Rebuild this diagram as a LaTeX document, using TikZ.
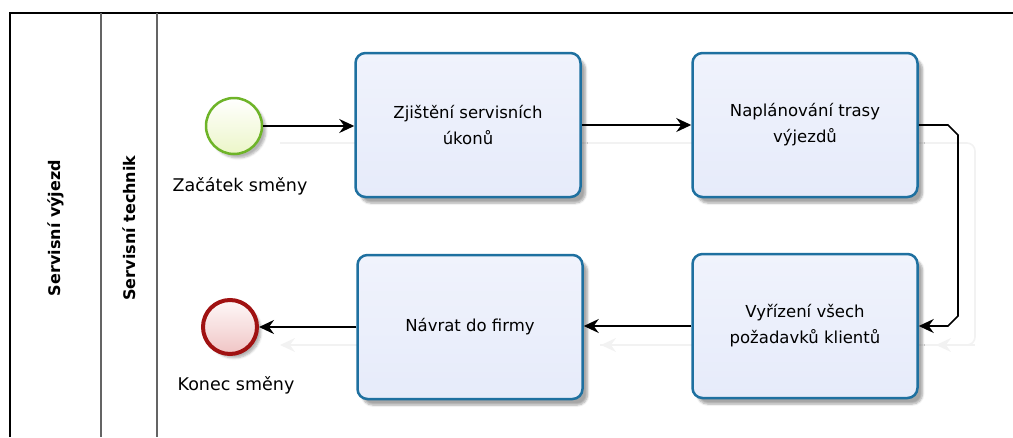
\documentclass[tikz,border=0pt]{standalone}
\usepackage{fontspec}
\setmainfont{DejaVu Sans}
\usetikzlibrary{arrows.meta,shadows.blur,calc}
\definecolor{taskblue}{RGB}{30,112,160}
\definecolor{taskfill}{RGB}{230,235,250}
\definecolor{startgreen}{RGB}{110,180,40}
\definecolor{startfill}{RGB}{236,246,200}
\definecolor{endred}{RGB}{160,18,18}
\definecolor{endfill}{RGB}{240,196,196}
\definecolor{lanegray}{RGB}{100,100,100}
\tikzset{
  task/.style={draw=taskblue, line width=2.5pt, rounded corners=10pt,
    minimum width=225pt, minimum height=144pt, align=center,
    top color=white!40!taskfill, bottom color=taskfill, font=\fontsize{16.5}{26}\selectfont,
    blur shadow={shadow xshift=5pt, shadow yshift=-6pt, shadow blur steps=6, shadow opacity=35}},
  startev/.style={circle, draw=startgreen, line width=2.5pt, minimum size=56pt, inner sep=0pt,
    top color=white, bottom color=startfill,
    blur shadow={shadow xshift=4pt, shadow yshift=-4pt, shadow blur steps=5, shadow opacity=30}},
  endev/.style={circle, draw=endred, line width=4pt, minimum size=54pt, inner sep=0pt,
    top color=white!90!endfill, bottom color=endfill,
    blur shadow={shadow xshift=4pt, shadow yshift=-4pt, shadow blur steps=5, shadow opacity=30}},
  evlabel/.style={font=\fontsize{17.5}{20}\selectfont},
  flow/.style={line width=1.6pt, -{Stealth[length=15pt,width=14pt,inset=5pt]}},
  ghost/.style={draw=black!5, line width=1.6pt, -{Stealth[length=15pt,width=14pt,inset=5pt]}},
  lanelabel/.style={font=\bfseries\fontsize{16}{18}\selectfont, rotate=90},
}
\begin{document}
\begin{tikzpicture}[x=1pt,y=-1pt]
\useasboundingbox (0,0) rectangle (1013,437);
% pool and lane
\draw[line width=2pt, black] (10,437) -- (10,13) -- (1013,13);
\draw[line width=2pt, lanegray] (101,13) -- (101,437);
\draw[line width=2pt, lanegray] (157,13) -- (157,437);
\node[lanelabel] (pool) at (56,228) {Servisní výjezd};
\node[lanelabel] (lane) at (129,228) {Servisní technik};
% ghost shadows of connectors
\draw[draw=black!5, line width=1.6pt, rounded corners=8pt] (280,143) -- (975,143) -- (975,345) -- (600,345);
\draw[ghost] (975,345) -- (936,345);
\draw[ghost] (700,345) -- (601,345);
\draw[ghost] (358,345) -- (280,345);
% nodes
\node[startev] (start) at (234,126) {};
\node[evlabel] (startlbl) at (240,186) {Začátek směny};
\node[task] (t1) at (468,125) {Zjištění servisních\\úkonů};
\node[task] (t2) at (805,125) {Naplánování trasy\\výjezdů};
\node[task] (t3) at (805,326) {Vyřízení všech\\požadavků klientů};
\node[task] (t4) at (470,327) {Návrat do firmy};
\node[endev] (end) at (230,327) {};
\node[evlabel] (endlbl) at (236,385) {Konec směny};
% connectors
\coordinate (c1) at (948,125);
\coordinate (c2) at (958,135);
\coordinate (c3) at (958,316);
\coordinate (c4) at (948,326);
\draw[flow] (start.east) -- (start.east -| t1.west);
\draw[flow] (t1) -- (t2);
\draw[flow] (t2.east) -- (c1) -- (c2) -- (c3) -- (c4) -- (t3.east);
\draw[flow] (t3.west) -- (t3.west -| t4.east);
\draw[flow] (t4.west |- end) -- (end);
\end{tikzpicture}
\end{document}
